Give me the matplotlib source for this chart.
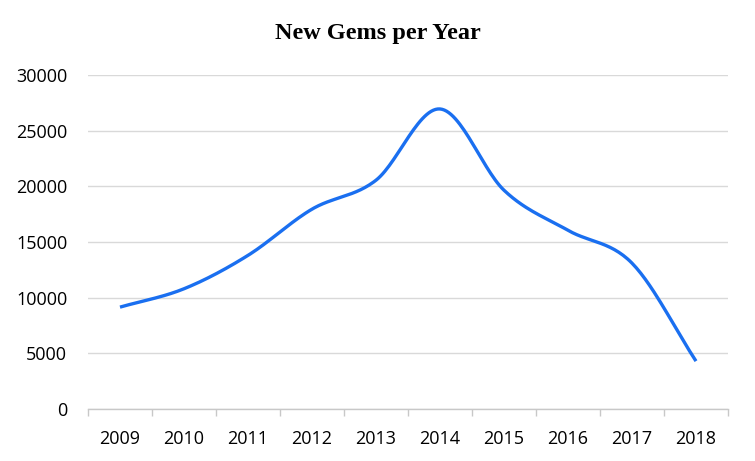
import numpy as np
import matplotlib.pyplot as plt

years = ['2009', '2010', '2011', '2012', '2013', '2014', '2015', '2016', '2017', '2018']
new_gems = [9150, 10800, 13800, 17950, 20550, 26950, 19650, 16050, 13100, 4300]


def smooth(xs, ys, steps=30):
    # catmull-rom style smoothing, like the spreadsheet "smoothed line"
    xs = np.asarray(xs, float)
    ys = np.asarray(ys, float)
    px = np.concatenate([[2 * xs[0] - xs[1]], xs, [2 * xs[-1] - xs[-2]]])
    py = np.concatenate([[2 * ys[0] - ys[1]], ys, [2 * ys[-1] - ys[-2]]])
    out_x, out_y = [], []
    t = np.linspace(0, 1, steps)
    for i in range(1, len(px) - 2):
        x0, x1, x2, x3 = px[i - 1:i + 3]
        y0, y1, y2, y3 = py[i - 1:i + 3]
        bx = [x1, x1 + (x2 - x0) / 6, x2 - (x3 - x1) / 6, x2]
        by = [y1, y1 + (y2 - y0) / 6, y2 - (y3 - y1) / 6, y2]
        b = [(1 - t) ** 3, 3 * (1 - t) ** 2 * t, 3 * (1 - t) * t ** 2, t ** 3]
        out_x.extend(sum(c * p for c, p in zip(b, bx)))
        out_y.extend(sum(c * p for c, p in zip(b, by)))
    return out_x, out_y


fig = plt.figure(figsize=(7.55, 4.61), dpi=100)
ax = fig.add_axes([88 / 755, 52 / 461, 640 / 755, 334 / 461])

idx = np.arange(len(years))
sx, sy = smooth(idx, new_gems)
ax.plot(sx, sy, color='#1a6ff0', lw=2.4, solid_capstyle='butt', zorder=3)

ax.set_xlim(-0.5, len(years) - 0.5)
ax.set_ylim(0, 30000)
ax.set_yticks(range(0, 30001, 5000))
ax.set_xticks(idx)
ax.set_xticklabels(years)
ax.set_xticks(np.arange(-0.5, len(years), 1), minor=True)

ax.grid(axis='y', color='#d9d9d9', lw=1)
ax.set_axisbelow(True)
for s in ['top', 'right', 'left']:
    ax.spines[s].set_visible(False)
ax.spines['bottom'].set_color('#c8c8c8')
ax.spines['bottom'].set_linewidth(1)

ax.tick_params(axis='y', length=0, pad=15, labelsize=13)
ax.tick_params(axis='x', which='major', length=0, pad=15, labelsize=13)
ax.tick_params(axis='x', which='minor', length=5, color='#c8c8c8', width=1)
for lab in ax.get_xticklabels() + ax.get_yticklabels():
    lab.set_fontfamily('Open Sans')

fig.text(0.5, 1 - 34 / 461, 'New Gems per Year', ha='center', va='center',
         fontsize=17.5, fontweight='bold', family='Liberation Serif')

plt.savefig('out.png', dpi=100)
